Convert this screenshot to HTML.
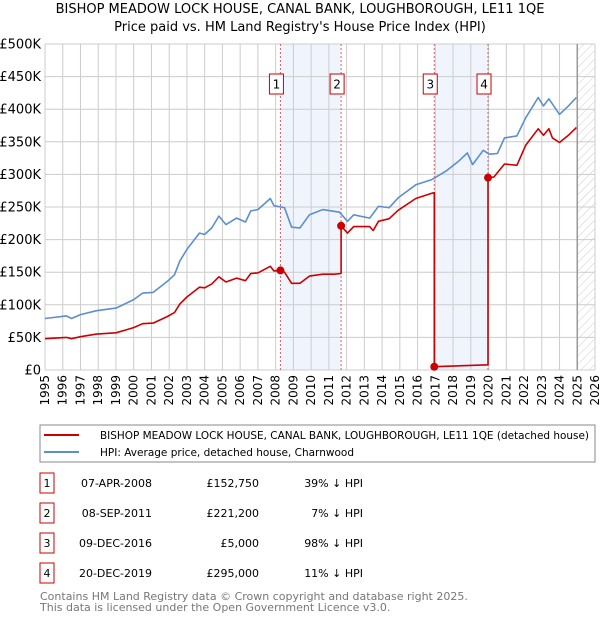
<!DOCTYPE html>
<html><head><meta charset="utf-8"><style>
body{margin:0;background:#fff;font-family:"DejaVu Sans","Liberation Sans",sans-serif;}
svg text{font-family:"DejaVu Sans","Liberation Sans",sans-serif;}
</style></head><body>
<svg id="c" width="600" height="620" xmlns="http://www.w3.org/2000/svg">
<defs><pattern id="hatch" width="6" height="6" patternUnits="userSpaceOnUse" patternTransform="rotate(45)"><line x1="0" y1="0" x2="0" y2="6" stroke="#ccc" stroke-width="1"/></pattern></defs>
<text x="300" y="13" text-anchor="middle" font-size="13">BISHOP MEADOW LOCK HOUSE, CANAL BANK, LOUGHBOROUGH, LE11 1QE</text>
<text x="300" y="31" text-anchor="middle" font-size="13">Price paid vs. HM Land Registry's House Price Index (HPI)</text>
<g id="plot"></g>
<rect x="40" y="425" width="555" height="37" fill="none" stroke="#888"/>
<line x1="44" y1="435" x2="79" y2="435" stroke="#cc0000" stroke-width="2"/>
<text x="100" y="439" font-size="11" textLength="489" lengthAdjust="spacingAndGlyphs">BISHOP MEADOW LOCK HOUSE, CANAL BANK, LOUGHBOROUGH, LE11 1QE (detached house)</text>
<line x1="44" y1="452" x2="79" y2="452" stroke="#5b8fd1" stroke-width="2"/>
<text x="100" y="456" font-size="11" textLength="254" lengthAdjust="spacingAndGlyphs">HPI: Average price, detached house, Charnwood</text>
<g id="table" font-size="11"></g>
<text x="40" y="600" font-size="11" fill="#777">Contains HM Land Registry data © Crown copyright and database right 2025.</text>
<text x="40" y="611" font-size="11" fill="#777">This data is licensed under the Open Government Licence v3.0.</text>
</svg>
<script>
const hpiYears=[1995,1996.2,1996.5,1997,1997.9,1999.0,2000.0,2000.5,2001.1,2001.9,2002.3,2002.6,2003.0,2003.7,2004.0,2004.4,2004.8,2005.2,2005.8,2006.3,2006.6,2007.0,2007.7,2007.9,2008.5,2008.9,2009.37,2009.9,2010.65,2011.6,2012.05,2012.4,2013.3,2013.8,2014.4,2014.9,2015.9,2016.8,2017.6,2018.3,2018.8,2019.1,2019.7,2020.05,2020.5,2020.9,2021.6,2022.1,2022.8,2023.1,2023.4,2024.0,2024.5,2024.95];
const hpiValues=[79,83,79,85,91,95,108,118,119,136,146,167,185,210,208,218,236,223,233,227,244,246,263,252,249,219,218,238,246,242,228,238,233,251,249,264,284,292,305,320,333,315,337,331,332,356,359,387,418,405,416,392,405,418];
const redYears=[1995,1996.2,1996.5,1997,1997.9,1999.0,2000.0,2000.5,2001.1,2001.9,2002.3,2002.6,2003.0,2003.7,2004.0,2004.4,2004.8,2005.2,2005.8,2006.3,2006.6,2007.0,2007.7,2007.9,2008.27,2008.5,2008.9,2009.37,2009.9,2010.65,2011.3,2011.69,2011.69,2012.05,2012.4,2013.3,2013.5,2013.8,2014.4,2014.9,2015.9,2016.8,2016.94,2016.94,2019.97,2019.97,2020.3,2020.9,2021.6,2022.1,2022.8,2023.1,2023.4,2023.6,2024.0,2024.5,2024.95];
const redValues=[48,50,48,51,55,57,65,71,72,82,88,101,112,127,126,132,143,135,141,137,148,149,159,152,152.75,150,133,133,144,147,147,148,221.2,210,220,220,214,228,232,245,263,271,272,5,8,295,296,316,314,345,370,360,370,356,349,360,372];
const saleYears=[2008.27,2011.69,2016.94,2019.97];
const saleValues=[152.75,221.2,5,295];
const saleLabels=["1","2","3","4"];
const saleDates=["07-APR-2008","08-SEP-2011","09-DEC-2016","20-DEC-2019"];
const salePrices=["£152,750","£221,200","£5,000","£295,000"];
const salePcts=["39% ↓ HPI","7% ↓ HPI","98% ↓ HPI","11% ↓ HPI"];
const yTicks=[0,50,100,150,200,250,300,350,400,450,500];
const yTickLabels=["£0","£50K","£100K","£150K","£200K","£250K","£300K","£350K","£400K","£450K","£500K"];
const xTicks=[1995,1996,1997,1998,1999,2000,2001,2002,2003,2004,2005,2006,2007,2008,2009,2010,2011,2012,2013,2014,2015,2016,2017,2018,2019,2020,2021,2022,2023,2024,2025,2026];

const L=45,R=595,T=44,B=370;
const xs=y=>L+(y-1995)/31*(R-L);
const ys=v=>B-v/500*(B-T);
const NS="http://www.w3.org/2000/svg";
const plot=document.getElementById('plot');
function mk(tag,attrs,parent){const e=document.createElementNS(NS,tag);for(const k in attrs)e.setAttribute(k,attrs[k]);(parent||plot).appendChild(e);return e;}
for(const [a,b] of [[0,1],[2,3]]){
  const r=mk('rect',{x:xs(saleYears[a]),y:T,width:xs(saleYears[b])-xs(saleYears[a]),height:B-T,fill:'#f0f4fc'});
  
  
}
const hx=xs(2025.0);
const hr=mk('rect',{x:hx,y:T,width:R-hx,height:B-T,fill:'url(#hatch)'});


xTicks.forEach((t)=>{
  const g=mk('line',{x1:xs(t),x2:xs(t),y1:T,y2:B,stroke:'#ccc','stroke-width':1});
  
  
  const tx=mk('text',{x:0,y:0,'font-size':12,'text-anchor':'end',transform:`translate(${xs(t)+4},375) rotate(-90)`});
  tx.textContent=String(t);
  
  
});
yTicks.forEach((t,i)=>{
  const g=mk('line',{x1:L,x2:R,y1:ys(t),y2:ys(t),stroke:'#ccc','stroke-width':1});
  
  
  const tx=mk('text',{x:41,y:ys(t)+4.5,'font-size':13,'text-anchor':'end'});
  tx.textContent=yTickLabels[i];
  
  
});
const ln=mk('line',{x1:hx,x2:hx,y1:T,y2:B,stroke:'#999','stroke-width':1.5});


saleYears.forEach((y,i)=>{
  const v=mk('line',{x1:xs(y),x2:xs(y),y1:T,y2:B,stroke:'#e06060','stroke-width':1,'stroke-dasharray':'2,2'});
  
  
});
function path(xsArr,vals,color,name){
  const d=xsArr.map((y,i)=>(i?'L':'M')+xs(y).toFixed(1)+','+ys(vals[i]).toFixed(1)).join('');
  const p=mk('path',{d:d,fill:'none',stroke:color,'stroke-width':1.6,'stroke-linejoin':'round'});
  
  
}
path(hpiYears,hpiValues,'#5b8fd1','hpi-line');
path(redYears,redValues,'#cc0000','price-paid-line');
saleYears.forEach((y,i)=>{
  const c=mk('circle',{cx:xs(y),cy:ys(saleValues[i]),r:4,fill:'#cc0000'});
  
  
  const bx=mk('rect',{x:xs(y)-11,y:74,width:14,height:20,fill:'#fff',stroke:'#cc0000','stroke-width':1});
  
  
  const t=mk('text',{x:xs(y)-4,y:88.5,'font-size':12,'text-anchor':'middle'});
  t.textContent=saleLabels[i];
  
  
});
const tb=document.getElementById('table');
saleLabels.forEach((s,i)=>{
  const cy=483+i*30;
  const b=mk('rect',{x:40,y:cy-10,width:14,height:20,fill:'#fff',stroke:'#cc0000','stroke-width':1},tb);
  
  
  const cells=[[47,'middle',s],[152,'end',saleDates[i]],[259,'end',salePrices[i]],[363,'end',salePcts[i]]];
  cells.forEach(c=>{
    const t=mk('text',{x:c[0],y:cy+4,'text-anchor':c[1]},tb);
    t.textContent=c[2];
    
    
  });
});
</script>
</body></html>
